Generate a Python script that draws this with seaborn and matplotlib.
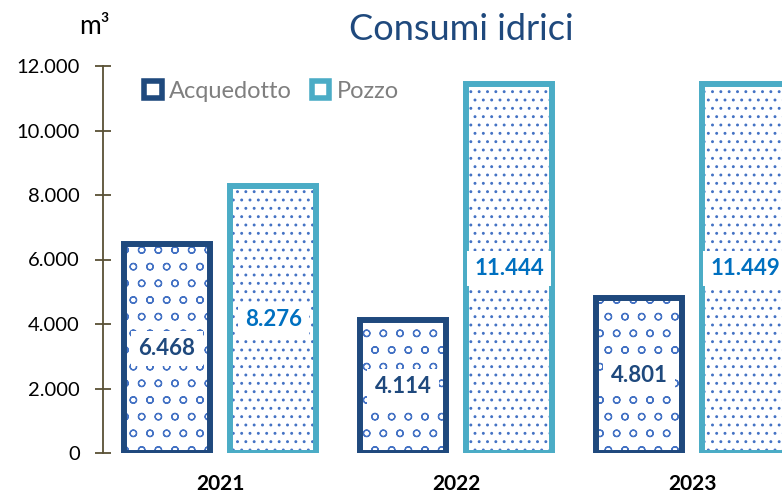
import pandas as pd
import matplotlib
matplotlib.use("Agg")
import matplotlib.pyplot as plt
from matplotlib.patches import Rectangle
from matplotlib.ticker import FuncFormatter
import seaborn as sns

anni = ["2021", "2022", "2023"]
acquedotto = [6468, 4114, 4801]
pozzo = [8276, 11444, 11449]
fonti = ["Acquedotto", "Pozzo"]

bordi = {"Acquedotto": "#1F497D", "Pozzo": "#4BACC6"}
testo_col = {"Acquedotto": "#1F497D", "Pozzo": "#0070C0"}
tratteggio = {"Acquedotto": "o", "Pozzo": ".."}
col_tratt = "#4472C4"


def fmt_it(v, pos=None):
    return f"{int(v):,}".replace(",", ".")


df = pd.DataFrame({
    "anno": anni * 2,
    "fonte": ["Acquedotto"] * len(anni) + ["Pozzo"] * len(anni),
    "consumo": acquedotto + pozzo,
})

sns.set_theme(style="white")
plt.rcParams["font.family"] = ["Lato", "DejaVu Sans"]
plt.rcParams["hatch.linewidth"] = 0.9

fig = plt.figure(figsize=(7.82, 4.96), dpi=100)
# the plot area runs past the right edge of the picture, as in the original
ax = fig.add_axes([103 / 782, 43 / 496, 720 / 782, 387 / 496])

sns.barplot(data=df, x="anno", y="consumo", hue="fonte", hue_order=fonti,
            width=0.9, gap=0.19, palette=["white", "white"],
            legend=False, ax=ax)

# seaborn puts the bars in hue order: first Acquedotto, then Pozzo
bars = list(ax.patches)
for i, p in enumerate(bars):
    fonte = fonti[i // len(anni)]
    x, y = p.get_x(), p.get_y()
    w, h = p.get_width(), p.get_height()
    p.set_facecolor("white")
    p.set_edgecolor(col_tratt)
    p.set_linewidth(0)
    p.set_hatch(tratteggio[fonte])
    ax.add_patch(Rectangle((x, y), w, h, fill=False,
                           edgecolor=bordi[fonte], linewidth=4.3, zorder=3))
    ax.text(x + w / 2, h / 2, fmt_it(h), ha="center", va="center",
            fontsize=16, fontweight="bold", color=testo_col[fonte], zorder=4,
            bbox=dict(boxstyle="square,pad=0.32", facecolor="white",
                      edgecolor="none"))

ax.set_xlim(-0.496, -0.496 + 720 / 236)
ax.set_ylim(0, 12000)
ax.set_yticks(range(0, 12001, 2000))
ax.yaxis.set_major_formatter(FuncFormatter(fmt_it))
ax.set_xlabel("")
ax.set_ylabel("")

for s in ["top", "right", "bottom"]:
    ax.spines[s].set_visible(False)
ax.spines["left"].set_color("#595135")
ax.spines["left"].set_linewidth(1.3)

ax.tick_params(axis="y", direction="inout", length=11.5, width=1.3,
               color="#595135", labelsize=14.5, labelcolor="black", pad=11,
               left=True)
ax.tick_params(axis="x", length=0, labelsize=15, pad=15)
for t in ax.get_xticklabels():
    t.set_fontweight("bold")
    t.set_color("black")

fig.text(461 / 782, 1 - 30 / 496, "Consumi idrici", ha="center", va="center",
         fontsize=26, color="#1F497D")
fig.text(94 / 782, 1 - 27 / 496, "m³", ha="center", va="center",
         fontsize=19, color="black")

maniglie = [Rectangle((0, 0), 1, 1, facecolor="white", edgecolor=bordi[f],
                      linewidth=4, hatch=None) for f in fonti]
leg = ax.legend(maniglie, fonti, loc="center left",
                bbox_to_anchor=(144 / 782, 1 - 91 / 496),
                bbox_transform=fig.transFigure, ncol=2, frameon=False,
                fontsize=17, handlelength=0.75, handleheight=0.75,
                handletextpad=0.3, columnspacing=0.85, borderpad=0,
                borderaxespad=0)
for t in leg.get_texts():
    t.set_color("#7F7F7F")

fig.savefig("out.png", dpi=100)
